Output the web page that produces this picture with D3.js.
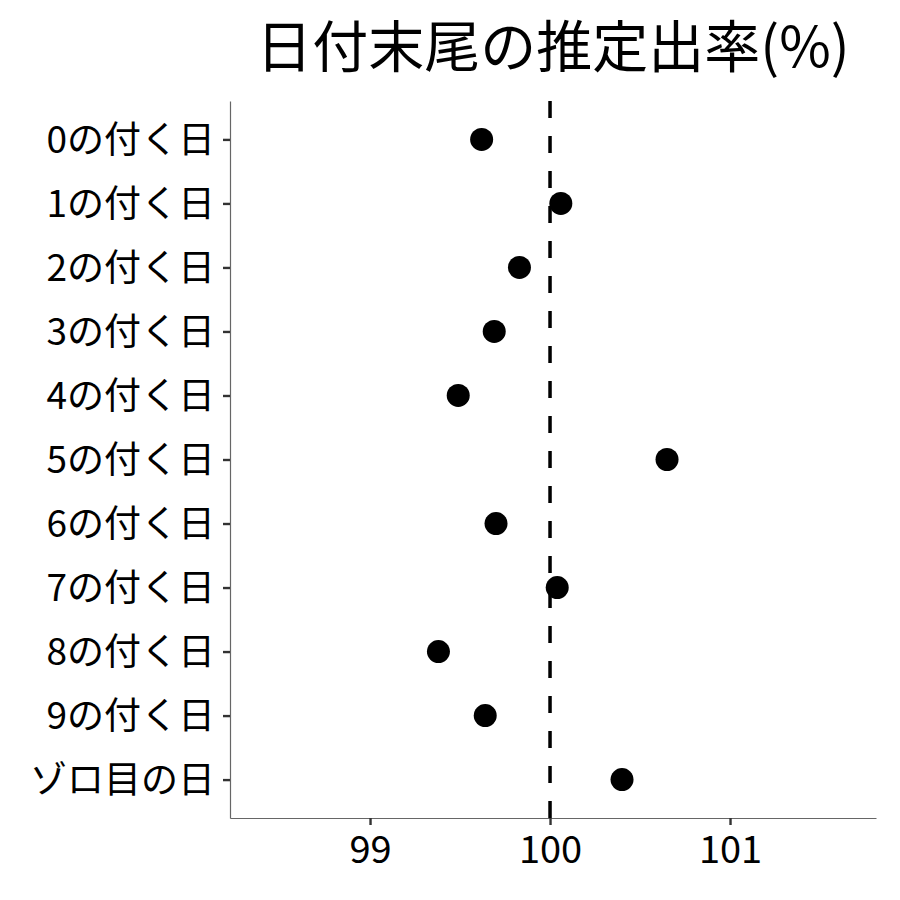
<!DOCTYPE html>
<html>
<head>
<meta charset="utf-8">
<script src="https://cdn.jsdelivr.net/npm/d3@7"></script>
<style>
  body { margin: 0; background: #fff; }
  text { font-family: "Noto Sans CJK JP", "Noto Sans", sans-serif; }
</style>
</head>
<body>
<div id="chart"></div>
<script>
// data
const categories = ["0の付く日", "1の付く日", "2の付く日", "3の付く日", "4の付く日",
  "5の付く日", "6の付く日", "7の付く日", "8の付く日", "9の付く日", "ゾロ目の日"];
const rates = [99.62, 100.06, 99.83, 99.69, 99.49, 100.65, 99.70, 100.04, 99.38, 99.64, 100.40];
const xTicks = [99, 100, 101];
const refValue = 100;
const title = "日付末尾の推定出率(%)";

const svgWidth = 900;
const svgHeight = 900;
const margin = { top: 101, right: 24, bottom: 82, left: 230 };
const width = svgWidth - margin.left - margin.right;
const height = svgHeight - margin.top - margin.bottom;

const svg = d3.select("#chart")
  .append("svg")
  .attr("width", svgWidth)
  .attr("height", svgHeight);

const chart = svg.append("g")
  .attr("transform", `translate(${margin.left}, ${margin.top})`);

// scales
const x = d3.scaleLinear()
  .domain([98.222, 101.811])
  .range([0, width]);

const y = d3.scalePoint()
  .domain(categories)
  .range([0, height])
  .padding(0.6);

// reference line
chart.append("line")
  .attr("x1", x(refValue))
  .attr("x2", x(refValue))
  .attr("y1", 0)
  .attr("y2", height)
  .attr("stroke", "#000")
  .attr("stroke-width", 3.5)
  .attr("stroke-dasharray", "17,18");

// axes
const xAxis = chart.append("g")
  .attr("transform", `translate(0, ${height})`)
  .call(d3.axisBottom(x).tickValues(xTicks).tickSize(7).tickSizeOuter(0)
    .tickPadding(6).tickFormat(d3.format("d")));

const yAxis = chart.append("g")
  .call(d3.axisLeft(y).tickSize(7).tickSizeOuter(0).tickPadding(8));

[xAxis, yAxis].forEach(function(ax) {
  ax.select(".domain").attr("stroke", "#666").attr("stroke-width", 1.2);
  ax.selectAll(".tick line").attr("stroke", "#333").attr("stroke-width", 2.4);
  ax.selectAll(".tick text").attr("fill", "#000");
});
xAxis.selectAll(".tick text").attr("dy", "0.85em").style("font-size", "38px");
yAxis.selectAll(".tick text").attr("dy", "0.36em").style("font-size", "37px");

// points
chart.selectAll("circle")
  .data(rates)
  .enter()
  .append("circle")
  .attr("cx", d => x(d))
  .attr("cy", (d, i) => y(categories[i]))
  .attr("r", 11.5)
  .attr("fill", "#000");

// title
svg.append("text")
  .attr("x", margin.left + width / 2)
  .attr("y", 67)
  .attr("text-anchor", "middle")
  .style("font-size", "56px")
  .attr("fill", "#000")
  .text(title);
</script>
</body>
</html>
